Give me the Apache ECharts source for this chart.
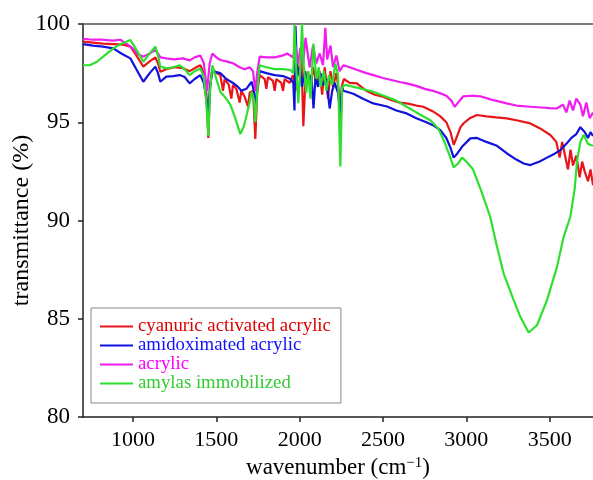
<!DOCTYPE html>
<html>
<head>
<meta charset="utf-8">
<script src="https://cdn.jsdelivr.net/npm/echarts@6/dist/echarts.min.js"></script>
<style>
html,body{margin:0;padding:0;background:#fff;}
#chart{width:593px;height:480px;}
</style>
</head>
<body>
<div id="chart"></div>
<script>
const seriesNames = ['cyanuric activated acrylic', 'amidoximated acrylic', 'acrylic', 'amylas immobilized'];
const xTicks = [1000, 1500, 2000, 2500, 3000, 3500];
const yTicks = [80, 85, 90, 95, 100];

const cyanuric = [[700,99.1],[760,99.05],[820,99.0],[880,98.98],[940,98.95],[985,98.85],[1020,98.4],[1062,97.83],[1100,98.1],[1134,98.3],[1150,98.0],[1164,97.57],[1200,97.7],[1250,97.8],[1300,97.75],[1340,97.6],[1380,97.8],[1404,97.9],[1425,97.5],[1440,96.5],[1452,94.2],[1462,96.8],[1476,97.74],[1500,97.5],[1524,97.4],[1540,96.6],[1550,97.2],[1575,96.9],[1590,96.2],[1600,96.9],[1620,96.7],[1640,96.0],[1650,96.6],[1670,96.3],[1690,95.8],[1700,96.5],[1720,96.6],[1734,94.15],[1745,96.5],[1760,97.4],[1790,97.2],[1800,96.7],[1810,97.3],[1840,97.1],[1850,96.6],[1860,97.2],[1890,97.0],[1900,96.6],[1910,97.2],[1940,97.0],[1960,97.4],[1975,96.6],[1985,98.0],[2000,97.3],[2010,98.5],[2022,94.8],[2035,97.2],[2050,97.6],[2065,96.8],[2080,97.8],[2100,97.0],[2120,97.6],[2135,96.4],[2150,97.8],[2170,96.2],[2185,97.6],[2200,96.8],[2220,97.5],[2235,96.6],[2244,94.0],[2252,96.8],[2265,97.2],[2300,97.0],[2343,96.98],[2400,96.6],[2450,96.4],[2500,96.3],[2544,96.15],[2600,96.0],[2650,95.95],[2700,95.85],[2742,95.79],[2800,95.55],[2844,95.3],[2880,95.0],[2905,94.5],[2924,93.85],[2945,94.3],[2965,94.75],[2984,94.95],[3020,95.2],[3064,95.37],[3120,95.3],[3180,95.25],[3242,95.2],[3300,95.1],[3384,94.94],[3440,94.7],[3504,94.35],[3540,94.0],[3560,93.2],[3575,94.0],[3590,93.4],[3610,92.6],[3625,93.6],[3640,92.8],[3660,93.3],[3680,92.2],[3695,93.0],[3710,92.5],[3730,92.0],[3745,92.6],[3760,91.8]];

const amidoximated = [[700,98.98],[760,98.9],[820,98.85],[882,98.76],[930,98.5],[984,98.25],[1020,97.7],[1062,97.06],[1100,97.5],[1134,97.83],[1150,97.5],[1164,97.06],[1200,97.32],[1240,97.35],[1280,97.4],[1310,97.3],[1340,96.98],[1370,97.2],[1404,97.4],[1425,97.0],[1440,96.2],[1452,95.3],[1462,96.8],[1476,97.6],[1500,97.55],[1524,97.5],[1560,97.2],[1600,97.0],[1630,96.8],[1650,96.6],[1680,96.7],[1712,97.06],[1725,96.6],[1734,95.5],[1745,96.8],[1760,97.6],[1800,97.5],[1850,97.4],[1900,97.35],[1945,97.2],[1962,97.0],[1969,95.6],[1975,99.9],[1985,97.4],[2000,97.8],[2014,96.8],[2030,97.6],[2050,97.0],[2070,97.4],[2083,95.7],[2095,97.3],[2110,96.8],[2125,97.5],[2140,96.9],[2160,97.2],[2180,95.7],[2195,96.6],[2210,97.0],[2230,96.5],[2244,95.5],[2255,96.8],[2262,96.6],[2322,96.45],[2380,96.2],[2442,95.96],[2524,95.8],[2580,95.6],[2642,95.45],[2700,95.2],[2760,95.0],[2800,94.85],[2844,94.6],[2880,94.2],[2905,93.7],[2924,93.2],[2945,93.4],[2974,93.75],[3024,94.18],[3064,94.2],[3120,94.0],[3184,93.8],[3244,93.41],[3300,93.1],[3344,92.9],[3384,92.82],[3440,93.0],[3484,93.2],[3530,93.4],[3564,93.58],[3600,93.9],[3630,94.2],[3660,94.4],[3684,94.75],[3710,94.5],[3730,94.2],[3745,94.5],[3760,94.3]];

const acrylic = [[700,99.25],[760,99.2],[820,99.2],[880,99.15],[924,99.2],[960,99.0],[1000,98.75],[1030,98.45],[1062,98.34],[1100,98.5],[1134,98.68],[1150,98.5],[1164,98.3],[1200,98.25],[1250,98.2],[1300,98.25],[1340,98.15],[1370,98.3],[1404,98.4],[1425,98.0],[1444,96.6],[1460,98.0],[1476,98.5],[1500,98.3],[1524,98.17],[1560,98.1],[1600,98.0],[1640,97.8],[1670,97.7],[1700,97.8],[1720,97.6],[1734,96.6],[1745,97.5],[1760,98.34],[1800,98.3],[1850,98.3],[1900,98.4],[1925,98.5],[1960,98.3],[1975,98.9],[1990,98.0],[2005,98.8],[2020,97.9],[2035,99.3],[2060,97.8],[2080,98.9],[2100,98.0],[2120,98.5],[2140,97.9],[2154,99.8],[2165,98.2],[2185,98.9],[2200,97.8],[2220,98.4],[2240,97.6],[2262,97.9],[2300,97.8],[2350,97.65],[2400,97.5],[2442,97.4],[2500,97.25],[2550,97.15],[2600,97.05],[2642,96.98],[2700,96.85],[2750,96.7],[2800,96.6],[2844,96.47],[2880,96.35],[2910,96.1],[2930,95.79],[2950,96.0],[2982,96.32],[3030,96.35],[3084,96.32],[3150,96.15],[3200,96.05],[3242,95.96],[3300,95.85],[3384,95.79],[3450,95.75],[3500,95.72],[3542,95.7],[3580,95.9],[3600,95.5],[3620,96.1],[3640,95.6],[3660,96.2],[3684,95.9],[3700,95.3],[3720,96.0],[3740,95.2],[3760,95.5]];

const amylas = [[700,97.9],[740,97.9],[784,98.08],[830,98.4],[882,98.76],[930,99.0],[984,99.19],[1020,98.7],[1062,98.08],[1100,98.5],[1134,98.85],[1150,98.4],[1164,97.83],[1200,97.74],[1240,97.8],[1280,97.9],[1310,97.7],[1340,97.4],[1370,97.6],[1404,97.74],[1425,97.3],[1440,96.0],[1452,94.3],[1462,96.5],[1476,97.9],[1500,97.2],[1524,96.55],[1550,96.3],[1584,95.9],[1610,95.3],[1644,94.4],[1665,94.8],[1682,95.37],[1700,96.0],[1712,96.55],[1725,96.2],[1734,95.0],[1745,96.5],[1760,97.9],[1800,97.8],[1850,97.7],[1900,97.7],[1945,97.66],[1962,97.5],[1969,99.95],[1980,97.6],[1992,95.97],[2005,98.0],[2014,100],[2025,97.8],[2040,96.5],[2050,97.6],[2065,96.2],[2083,99.0],[2100,97.2],[2115,97.8],[2125,96.8],[2145,97.6],[2160,96.6],[2175,97.4],[2195,96.9],[2214,98.0],[2230,97.4],[2244,92.75],[2255,96.8],[2274,96.9],[2350,96.75],[2442,96.55],[2520,96.3],[2580,96.1],[2642,95.79],[2700,95.5],[2784,95.1],[2830,94.7],[2864,94.1],[2900,93.3],[2924,92.7],[2950,92.9],[2974,93.2],[3000,93.0],[3040,92.6],[3090,91.5],[3143,90.19],[3184,88.66],[3224,87.3],[3284,85.95],[3324,85.1],[3374,84.3],[3424,84.67],[3484,85.95],[3544,87.64],[3584,89.17],[3624,90.19],[3650,91.6],[3664,93.0],[3684,94.0],[3704,94.35],[3730,93.9],[3760,93.8]];

const lineColors = ['#e8161b', '#1212dd', '#f01cf0', '#2ee02e'];
const textColors = ['#dd0000', '#1010ff', '#ff00ff', '#33cc33'];
const seriesData = [cyanuric, amidoximated, acrylic, amylas];

const FONT = 'Liberation Serif';
const chart = echarts.init(document.getElementById('chart'), null, {renderer: 'canvas'});
chart.setOption({
  animation: false,
  backgroundColor: '#fff',
  grid: {left: 83, right: 0, top: 24, bottom: 63, containLabel: false, outerBoundsMode: 'none'},
  legend: {
    orient: 'vertical',
    left: 91, top: 308,
    padding: [9, 10, 10, 9],
    itemGap: 0,
    itemWidth: 33,
    itemHeight: 2,
    itemTextGap: 8,
    icon: 'rect',
    borderColor: '#888',
    borderWidth: 1,
    backgroundColor: '#fff',
    textStyle: {fontFamily: FONT, fontSize: 18.8},
    data: seriesNames.map((n, i) => ({name: n, textStyle: {color: textColors[i]}}))
  },
  xAxis: [{
    type: 'value', min: 700, max: 3760,
    name: 'wavenumber (cm{sup|−1})',
    nameLocation: 'middle', nameGap: 37,
    nameTextStyle: {fontFamily: FONT, fontSize: 23, color: '#000',
      rich: {sup: {fontFamily: FONT, fontSize: 15, verticalAlign: 'top', padding: [0,0,10,0], color: '#000'}}},
    axisLine: {show: true, lineStyle: {color: '#222', width: 1.5}},
    axisTick: {show: true, inside: false, length: 5, customValues: xTicks, lineStyle: {color: '#222', width: 1.5}},
    axisLabel: {customValues: xTicks, formatter: v => String(v), fontFamily: FONT, fontSize: 22, color: '#000', margin: 12},
    splitLine: {show: false}
  }, {
    type: 'value', min: 700, max: 3760, position: 'top',
    axisLine: {show: true, lineStyle: {color: '#555', width: 1.5}},
    axisTick: {show: false}, axisLabel: {show: false}, splitLine: {show: false}
  }],
  yAxis: {
    type: 'value', min: 80, max: 100, interval: 5,
    name: 'transmittance (%)',
    nameLocation: 'middle', nameGap: 49, nameMoveOverlap: false,
    nameTextStyle: {fontFamily: FONT, fontSize: 24, color: '#000'},
    axisLine: {show: true, lineStyle: {color: '#222', width: 1.5}},
    axisTick: {show: true, inside: false, length: 5, lineStyle: {color: '#222', width: 1.5}},
    axisLabel: {formatter: v => String(v), fontFamily: FONT, fontSize: 23, color: '#000', margin: 13},
    splitLine: {show: false}
  },
  series: seriesNames.map((n, i) => ({
    name: n, type: 'line', xAxisIndex: 0,
    data: seriesData[i],
    showSymbol: false, symbol: 'none',
    lineStyle: {color: lineColors[i], width: 2.2},
    itemStyle: {color: lineColors[i]},
    emphasis: {disabled: true},
    z: 2 + i
  }))
});
</script>
</body>
</html>
